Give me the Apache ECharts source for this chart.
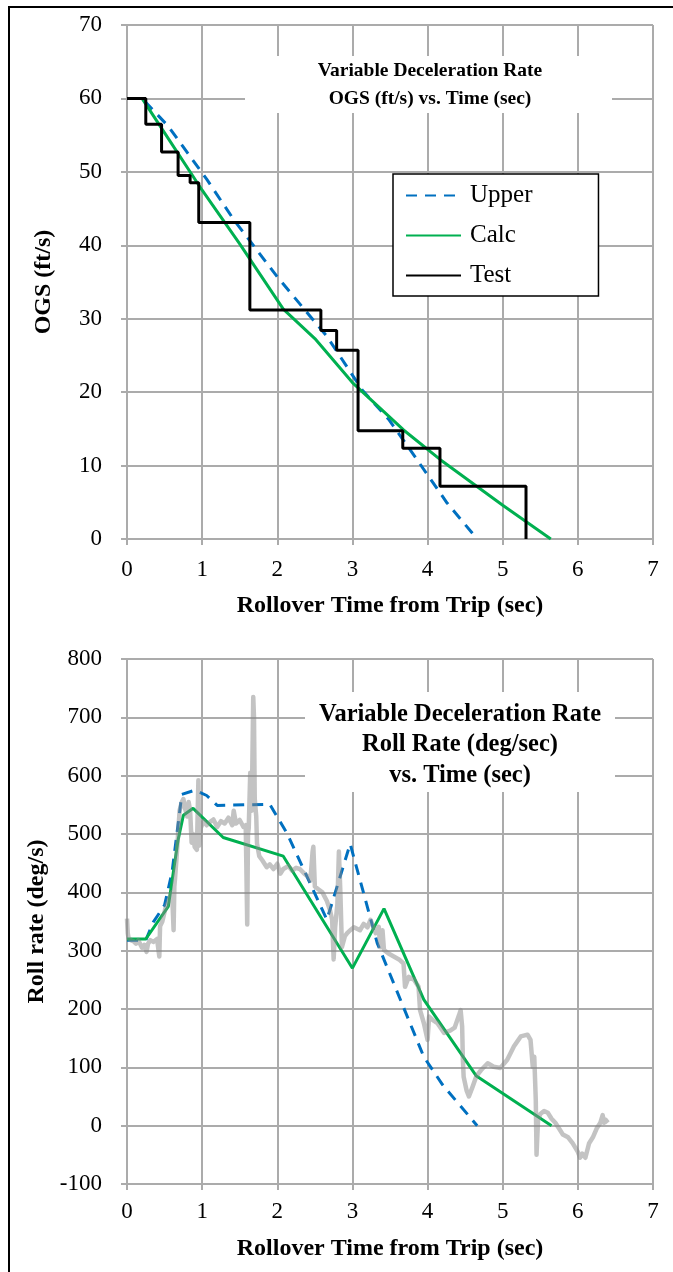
<!DOCTYPE html>
<html><head><meta charset="utf-8">
<script src="https://cdn.jsdelivr.net/npm/echarts@6/dist/echarts.min.js"></script>
<style>html,body{margin:0;padding:0;background:#fff}#c{width:673px;height:1272px}</style>
</head><body><div id="c"></div>
<script>
// ---------- data ----------
const xTickLabels = [0, 1, 2, 3, 4, 5, 6, 7];
const ogsTickLabels = [0, 10, 20, 30, 40, 50, 60, 70];
const rollTickLabels = [-100, 0, 100, 200, 300, 400, 500, 600, 700, 800];
const seriesNames = ['Upper', 'Calc', 'Test'];

// Top chart: OGS (ft/s) vs time
const upperTime = [0, 0.2, 0.55, 1.06, 1.42, 2.0, 2.22, 2.66, 3.13, 3.49, 3.86, 4.26, 4.66];
const upperOGS  = [60, 60, 56.2, 49, 43.5, 35.7, 33, 27.6, 20.3, 16.2, 10.8, 4.9, 0];
const calcTime  = [0, 0.2, 0.5, 1.0, 1.5, 2.08, 2.5, 3.0, 3.68, 4.17, 5.0, 5.64];
const calcOGS   = [60, 60, 55.3, 47.5, 40.2, 31.3, 27.3, 21.3, 14.85, 10.8, 4.6, 0];
const testTime  = [0, 0.25, 0.46, 0.68, 0.84, 0.955, 1.635, 2.58, 2.79, 3.075, 3.67, 4.165, 5.31];
const testOGS   = [60, 56.5, 52.7, 49.5, 48.5, 43.1, 31.2, 28.4, 25.7, 14.75, 12.35, 7.2, 0];

// Bottom chart: roll rate (deg/s) vs time
const upperRollTime = [0, 0.25, 0.35, 0.5, 0.6, 0.73, 0.9, 1.06, 1.2, 1.9, 2.13, 2.66, 2.97, 3.33, 3.95, 4.2, 4.66];
const upperRoll     = [318, 318, 349, 378, 435, 568, 575, 566, 549, 551, 501, 353, 483, 313, 118, 70, 0];
const calcRollTime  = [0, 0.25, 0.55, 0.68, 0.75, 0.88, 1.28, 2.08, 3.0, 3.42, 3.95, 4.65, 5.65];
const calcRoll      = [320, 320, 376, 490, 532, 544, 494, 462, 270, 372, 216, 85, 0];
const testRollTime = [0,0.01,0.02,0.05,0.09,0.12,0.15,0.2,0.23,0.26,0.28,0.31,0.35,0.4,0.42,0.43,0.44,0.47,0.51,0.55,0.57,0.6,0.62,0.63,0.64,0.66,0.68,0.7,0.73,0.75,0.77,0.8,0.82,0.84,0.86,0.88,0.9,0.93,0.95,0.96,0.98,1.02,1.06,1.1,1.15,1.2,1.25,1.3,1.35,1.4,1.42,1.45,1.5,1.55,1.58,1.6,1.61,1.62,1.64,1.66,1.68,1.69,1.7,1.72,1.73,1.76,1.8,1.86,1.9,1.95,2.0,2.04,2.08,2.15,2.2,2.25,2.3,2.36,2.42,2.44,2.47,2.48,2.5,2.55,2.6,2.62,2.66,2.7,2.73,2.75,2.77,2.8,2.82,2.84,2.86,2.9,2.93,2.97,3.02,3.1,3.15,3.2,3.24,3.28,3.31,3.35,3.37,3.4,3.42,3.48,3.55,3.62,3.68,3.7,3.75,3.82,3.88,3.9,3.95,4.0,4.02,4.08,4.13,4.22,4.3,4.36,4.42,4.44,4.46,4.47,4.48,4.52,4.55,4.6,4.65,4.71,4.8,4.88,4.97,5.06,5.15,5.24,5.33,5.37,5.4,5.42,5.44,5.45,5.47,5.5,5.55,5.6,5.65,5.7,5.75,5.8,5.87,5.93,6.0,6.03,6.06,6.1,6.15,6.2,6.25,6.3,6.33,6.35,6.37,6.4];
const testRoll = [355,330,322,318,316,312,318,305,310,298,312,318,315,320,300,290,342,350,372,385,392,400,335,410,425,460,500,540,555,560,545,530,555,540,485,500,478,473,592,480,510,522,515,520,525,512,522,518,528,515,540,518,524,512,515,345,500,510,605,540,735,700,560,530,484,462,455,443,448,440,449,432,440,445,437,442,440,432,426,420,470,478,410,405,400,395,385,370,353,285,340,380,470,398,306,325,330,335,340,335,346,340,353,340,330,341,306,335,301,295,290,285,278,238,255,250,238,198,176,147,187,180,176,159,163,168,190,198,170,113,84,60,50,67,85,95,107,101,99,113,136,153,156,147,101,118,44,-50,10,20,25,22,12,5,-5,-15,-20,-30,-45,-55,-48,-55,-30,-20,-5,5,18,5,10,5];

// ---------- helpers ----------
const zip = (xs, ys) => xs.map((x, i) => [x, ys[i]]);
const FONT = "'Liberation Serif','Times New Roman',serif";
const GRID_C = '#ababab';
const BLUE = '#0070C0', GREEN = '#00B050', GRAY = 'rgba(135,135,135,0.5)';

function xAxisCfg(gi) {
  return {
    type: 'value', gridIndex: gi,
    min: xTickLabels[0], max: xTickLabels[xTickLabels.length - 1], interval: 1,
    name: 'Rollover Time from Trip (sec)', nameLocation: 'middle', nameGap: gi === 0 ? 55 : 53,
    nameTextStyle: { fontFamily: FONT, fontWeight: 'bold', fontSize: 24, color: '#000' },
    axisLine: { onZero: false, lineStyle: { color: GRID_C, width: 2 } },
    axisTick: { show: true, length: 6, lineStyle: { color: GRID_C, width: 2 } },
    axisLabel: { fontFamily: FONT, fontSize: 23, color: '#000', margin: gi === 0 ? 19 : 16 },
    splitLine: { show: true, lineStyle: { color: GRID_C, width: 2 } }
  };
}
function yAxisCfg(gi, ticks, name, gap) {
  return {
    type: 'value', gridIndex: gi,
    min: ticks[0], max: ticks[ticks.length - 1], interval: ticks[1] - ticks[0],
    name: name, nameLocation: 'middle', nameGap: gap,
    nameTextStyle: { fontFamily: FONT, fontWeight: 'bold', fontSize: 24, color: '#000' },
    axisLine: { show: true, onZero: false, lineStyle: { color: GRID_C, width: 2 } },
    axisTick: { show: true, length: 6, lineStyle: { color: GRID_C, width: 2 } },
    axisLabel: { fontFamily: FONT, fontSize: 23, color: '#000', margin: 25 },
    splitLine: { show: true, lineStyle: { color: GRID_C, width: 2 } }
  };
}
const lineBase = { type: 'line', symbol: 'none', showSymbol: false, animation: false, silent: true };

const chart = echarts.init(document.getElementById('c'), null, { renderer: 'canvas' });
chart.setOption({
  backgroundColor: '#fff',
  animation: false,
  grid: [
    { left: 127, top: 25, width: 526, height: 514 },
    { left: 127, top: 659, width: 526, height: 525 }
  ],
  xAxis: [xAxisCfg(0), xAxisCfg(1)],
  yAxis: [yAxisCfg(0, ogsTickLabels, 'OGS (ft/s)', 71), yAxisCfg(1, rollTickLabels, 'Roll rate (deg/s)', 71)],
  legend: {
    left: 393, top: 174, orient: 'vertical',
    data: seriesNames,
    backgroundColor: '#fff', borderColor: '#000', borderWidth: 1.5, borderRadius: 0,
    padding: [9, 66, 8, 12],
    itemWidth: 55, itemHeight: 24, itemGap: 15,
    itemStyle: { opacity: 0 },
    textStyle: { fontFamily: FONT, fontSize: 25, color: '#000', lineHeight: 24, padding: [0, 0, 0, 4] }
  },
  series: [
    Object.assign({}, lineBase, { name: 'Upper', xAxisIndex: 0, yAxisIndex: 0, data: zip(upperTime, upperOGS),
      lineStyle: { color: BLUE, width: 3, type: [11, 8] }, itemStyle: { color: BLUE }, z: 2 }),
    Object.assign({}, lineBase, { name: 'Calc', xAxisIndex: 0, yAxisIndex: 0, data: zip(calcTime, calcOGS),
      lineStyle: { color: GREEN, width: 3 }, itemStyle: { color: GREEN }, z: 3 }),
    Object.assign({}, lineBase, { name: 'Test', xAxisIndex: 0, yAxisIndex: 0, data: zip(testTime, testOGS), step: 'end',
      lineStyle: { color: '#000', width: 3 }, itemStyle: { color: '#000' }, z: 4 }),
    Object.assign({}, lineBase, { name: 'UpperRoll', xAxisIndex: 1, yAxisIndex: 1, data: zip(upperRollTime, upperRoll),
      lineStyle: { color: BLUE, width: 3, type: [11, 8] }, z: 2 }),
    Object.assign({}, lineBase, { name: 'CalcRoll', xAxisIndex: 1, yAxisIndex: 1, data: zip(calcRollTime, calcRoll),
      lineStyle: { color: GREEN, width: 3 }, z: 3 }),
    Object.assign({}, lineBase, { name: 'TestRoll', xAxisIndex: 1, yAxisIndex: 1, data: zip(testRollTime, testRoll),
      lineStyle: { color: GRAY, width: 4.5, join: 'round' }, z: 4 })
  ],
  graphic: [
    { type: 'rect', z: 50, shape: { x: 245, y: 56, width: 367, height: 57 }, style: { fill: '#fff' } },
    { type: 'text', z: 51, x: 430, y: 57, style: { text: 'Variable Deceleration Rate\nOGS (ft/s) vs. Time (sec)',
      font: "bold 19.5px 'Liberation Serif'", fill: '#000', align: 'center', verticalAlign: 'top', lineHeight: 28 } },
    { type: 'rect', z: 50, shape: { x: 305, y: 692, width: 310, height: 100 }, style: { fill: '#fff' } },
    { type: 'text', z: 51, x: 460, y: 699, style: { text: 'Variable Deceleration Rate\nRoll Rate (deg/sec)\nvs. Time (sec)',
      font: "bold 24.5px 'Liberation Serif'", fill: '#000', align: 'center', verticalAlign: 'top', lineHeight: 30.5 } },
    { type: 'rect', z: 60, shape: { x: 9, y: 7, width: 700, height: 1300 }, style: { fill: 'none', stroke: '#000', lineWidth: 2 } }
  ]
});
</script></body></html>
